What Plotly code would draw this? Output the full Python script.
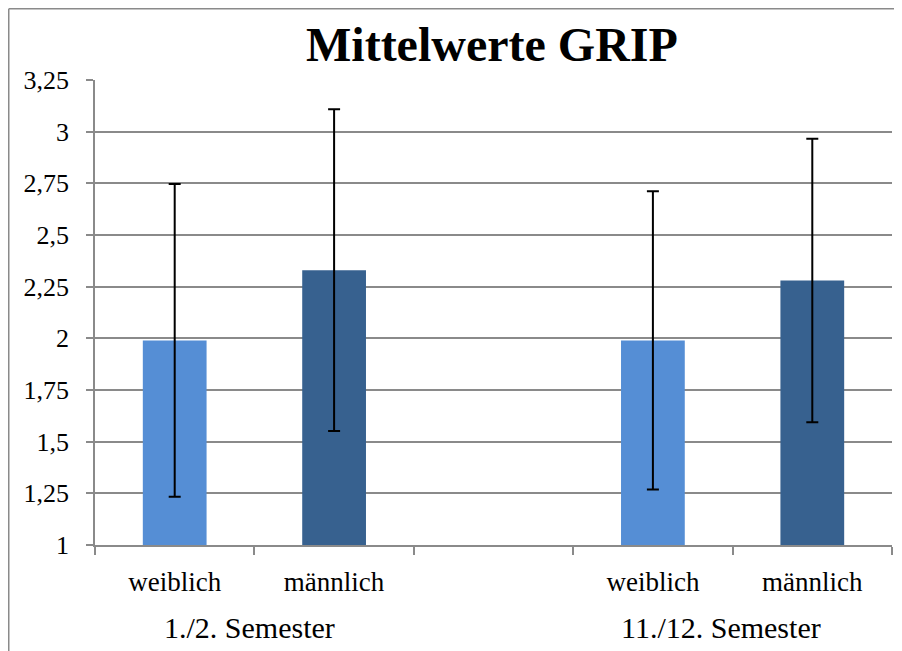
import plotly.graph_objects as go

# ---- data ----
slot_labels = ["weiblich", "männlich", "", "weiblich", "männlich"]
group_labels = ["1./2. Semester", "11./12. Semester"]
means = [1.99, 2.33, None, 1.99, 2.28]
sd = [0.757, 0.778, None, 0.722, 0.686]
bar_colors = ["#558ED5", "#37618F", "#558ED5", "#558ED5", "#37618F"]
y_tickvals = [1, 1.25, 1.5, 1.75, 2, 2.25, 2.5, 2.75, 3, 3.25]
y_ticktext = ["1", "1,25", "1,5", "1,75", "2", "2,25", "2,5", "2,75", "3", "3,25"]
title_text = "Mittelwerte GRIP"

# unique category keys (zero-width-space suffix keeps the shown text identical)
cat_keys = [lab + "\u200b" * i for i, lab in enumerate(slot_labels)]

# the page places the figure 8px from the top-left corner of the window
OFF = 8
W, H = 902 - OFF, 651 - OFF
ML, MT = 95 - OFF, 80 - OFF
MR = W - (892 - OFF)
MB = H - (545 - OFF)
PW, PH = W - ML - MR, H - MT - MB

def px_x(px):
    """screen x -> paper x"""
    return (px - OFF - ML) / PW

def px_y(py):
    """screen y -> paper y"""
    return (H - MB - (py - OFF)) / PH

GRID = "#8A8A8A"
SERIF = "Liberation Serif, Times New Roman, serif"

fig = go.Figure()
fig.add_trace(go.Bar(
    x=cat_keys,
    y=means,
    marker=dict(color=bar_colors, line=dict(width=0)),
    error_y=dict(type="data", array=sd, visible=True, color="black",
                 thickness=2, width=6),
    showlegend=False,
    hoverinfo="skip",
))

fig.update_layout(
    width=W, height=H,
    margin=dict(l=ML, r=MR, t=MT, b=MB, pad=0),
    paper_bgcolor="white", plot_bgcolor="white",
    bargap=0.6,
    font=dict(family=SERIF, color="black"),
    xaxis=dict(
        type="category",
        categoryorder="array", categoryarray=cat_keys,
        tickson="boundaries",
        ticks="outside", ticklen=8, tickwidth=1.5, tickcolor=GRID,
        showline=True, linecolor=GRID, linewidth=1.5,
        showgrid=False, zeroline=False,
        tickfont=dict(family=SERIF, size=27, color="black"),
        ticklabelstandoff=12,
    ),
    yaxis=dict(
        range=[1, 3.25],
        tickmode="array", tickvals=y_tickvals, ticktext=y_ticktext,
        ticks="outside", ticklen=7, tickwidth=1.5, tickcolor=GRID,
        showline=True, linecolor=GRID, linewidth=1.5,
        showgrid=True, gridcolor=GRID, gridwidth=1.5,
        zeroline=False,
        tickfont=dict(family=SERIF, size=26, color="black"),
        ticklabelstandoff=12,
    ),
)

annotations = [
    dict(text="<b>" + title_text + "</b>", xref="paper", yref="paper",
         x=px_x(492), y=px_y(44), xanchor="center", yanchor="middle",
         showarrow=False, font=dict(family=SERIF, size=48, color="black")),
    dict(text=group_labels[0], xref="x", yref="paper",
         x=0.47, y=px_y(627), xanchor="center", yanchor="middle",
         showarrow=False, font=dict(family=SERIF, size=30, color="black")),
    dict(text=group_labels[1], xref="x", yref="paper",
         x=3.43, y=px_y(627), xanchor="center", yanchor="middle",
         showarrow=False, font=dict(family=SERIF, size=30, color="black")),
]
fig.update_layout(annotations=annotations)

# outer chart frame (left and top edges visible in the picture)
fig.add_shape(type="line", xref="paper", yref="paper",
              x0=px_x(8.75), x1=px_x(8.75), y0=px_y(8.75), y1=px_y(700),
              line=dict(color=GRID, width=1.5))
fig.add_shape(type="line", xref="paper", yref="paper",
              x0=px_x(8.75), x1=px_x(950), y0=px_y(8.75), y1=px_y(8.75),
              line=dict(color=GRID, width=1.5))

fig.write_html("out.html")
